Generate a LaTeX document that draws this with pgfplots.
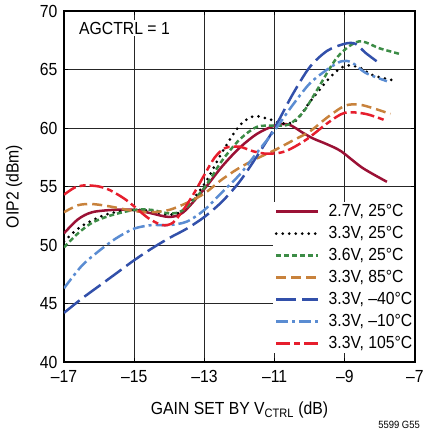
\documentclass[border=0pt]{standalone}
\usepackage{fontspec}
\setmainfont{Liberation Sans}[FakeStretch=0.9]
\usepackage{pgfplots}
\pgfplotsset{compat=1.18}
\definecolor{cdred}{RGB}{155,17,53}
\definecolor{cgreen}{RGB}{60,140,70}
\definecolor{corange}{RGB}{200,130,60}
\definecolor{cblue}{RGB}{50,80,170}
\definecolor{clblue}{RGB}{90,140,210}
\definecolor{cred}{RGB}{230,30,45}
\begin{document}
\begin{tikzpicture}
\useasboundingbox (0,0) rectangle (425pt,432pt);
\begin{axis}[
  at={(64pt,70pt)}, anchor=south west,
  width=351pt, height=351pt, scale only axis,
  font=\fontsize{17.5}{20}\selectfont,
  xmin=-17, xmax=-7, ymin=40, ymax=70,
  xtick={-17,-15,-13,-11,-9,-7},
  xticklabels={\textendash17,\textendash15,\textendash13,\textendash11,\textendash9,\textendash7},
  ytick={40,45,50,55,60,65,70},
  yticklabels={40,45,50,55,60,65,70},
  xticklabel style={yshift=-5pt},
  yticklabel style={xshift=-3pt},
  tick align=inside, major tick length=4pt,
  tick style={black, line width=0.8pt},
  grid=major,
  major grid style={black!85, line width=0.8pt},
  axis line style={black, line width=1.3pt},
  xlabel={GAIN SET BY V\textsubscript{CTRL} (dB)},
  ylabel={OIP2 (dBm)},
  xlabel style={at={(axis description cs:0.5,-0.137)}, anchor=center},
  ylabel style={at={(axis description cs:-0.142,0.5)}, anchor=center, rotate=0},
  legend image code/.code={\draw[#1] (0pt,0pt) -- (42pt,0pt);},
  legend style={at={(rel axis cs:0.594,0.456)}, anchor=north west,
    fill=white, draw=none, inner sep=2pt,
    nodes={inner sep=0pt, text height=12pt, text depth=3pt},
    row sep=7pt, font=\fontsize{17.5}{20}\selectfont,
    /tikz/every odd column/.append style={column sep=9pt}},
  legend cell align=left,
  every axis plot/.append style={smooth, line width=2.5pt},
]
\addplot[cdred] coordinates {(-17,51.0) (-16.6,52.2) (-16.2,52.8) (-15.6,53.0) (-15.0,53.0) (-14.5,52.7) (-14.0,52.4) (-13.6,52.8) (-13.0,54.8) (-12.5,56.7) (-12.0,58.3) (-11.5,59.5) (-11.0,60.2) (-10.6,60.3) (-10.2,59.6) (-9.9,59.1) (-9.5,58.6) (-9.1,58.0) (-8.5,56.6) (-7.8,55.4)};
\addlegendentry{2.7V, 25°C}
\addplot[black, line width=3pt, line cap=round, dash pattern=on 0pt off 6.5pt] coordinates {(-17,50.3) (-16.6,51.4) (-16.2,52.1) (-15.7,52.7) (-15.0,53.0) (-14.5,52.9) (-14.0,52.6) (-13.6,53.0) (-13.0,55.2) (-12.5,57.9) (-12.0,60.2) (-11.6,61.0) (-11.2,60.8) (-10.8,60.4) (-10.4,60.6) (-10.0,62.2) (-9.4,64.4) (-9.0,65.3) (-8.6,65.2) (-8.2,64.5) (-7.5,64.0)};
\addlegendentry{3.3V, 25°C}
\addplot[cgreen, dash pattern=on 5pt off 3pt] coordinates {(-17,49.8) (-16.6,51.0) (-16.2,51.9) (-15.7,52.5) (-15.0,53.0) (-14.5,53.0) (-14.0,52.7) (-13.6,53.0) (-13.0,54.9) (-12.5,57.2) (-12.0,59.0) (-11.5,60.1) (-11.0,60.2) (-10.6,60.3) (-10.2,61.3) (-9.8,63.2) (-9.2,66.1) (-8.6,67.4) (-8.0,66.8) (-7.4,66.3)};
\addlegendentry{3.6V, 25°C}
\addplot[corange, dash pattern=on 10pt off 5pt] coordinates {(-17,52.8) (-16.6,53.4) (-16.2,53.5) (-15.7,53.3) (-15.0,52.9) (-14.5,52.8) (-14.0,53.0) (-13.5,53.6) (-13.0,54.4) (-12.5,55.6) (-12.0,56.6) (-11.5,57.4) (-11.0,58.1) (-10.5,58.9) (-10.0,59.7) (-9.5,60.9) (-9.0,61.9) (-8.6,62.0) (-8.2,61.7) (-7.7,61.2)};
\addlegendentry{3.3V, 85°C}
\addplot[cblue, dash pattern=on 20pt off 6pt] coordinates {(-17,44.2) (-16.5,45.4) (-16,46.5) (-15.5,47.6) (-15,48.7) (-14.5,49.7) (-14,50.6) (-13.5,51.4) (-13,52.4) (-12.5,53.7) (-12,55.4) (-11.5,57.6) (-11,60.0) (-10.5,62.8) (-10,65.2) (-9.5,66.6) (-9,67.2) (-8.7,67.2) (-8.4,66.4) (-8.0,65.5)};
\addlegendentry{3.3V, \textendash40°C}
\addplot[clblue, dash pattern=on 12pt off 4pt on 3pt off 4pt] coordinates {(-17,46.3) (-16.5,48.2) (-16,49.5) (-15.5,50.6) (-15,51.4) (-14.5,51.7) (-14,51.7) (-13.5,52.0) (-13,53.0) (-12.5,54.5) (-12,56.0) (-11.5,57.9) (-11,59.8) (-10.5,61.9) (-10,63.8) (-9.5,65.0) (-9.1,65.7) (-8.8,65.6) (-8.4,64.7) (-7.8,64.0)};
\addlegendentry{3.3V, \textendash10°C}
\addplot[cred, dash pattern=on 14pt off 4pt on 6pt off 4pt] coordinates {(-17,54.3) (-16.7,54.9) (-16.4,55.1) (-16.0,55.0) (-15.7,54.7) (-15.3,54.0) (-15.0,53.3) (-14.6,52.3) (-14.2,51.7) (-13.9,51.9) (-13.6,53.0) (-13.3,54.4) (-13.0,56.0) (-12.7,57.5) (-12.4,58.3) (-12.0,58.4) (-11.6,58.0) (-11.2,57.8) (-10.7,58.0) (-10.1,59.0) (-9.5,60.4) (-9.0,61.3) (-8.4,61.2) (-7.8,60.6)};
\addlegendentry{3.3V, 105°C}
\node[fill=white, anchor=west, inner sep=2pt] at (rel axis cs:0.037,0.951) {AGCTRL = 1};
\end{axis}
\node[anchor=east, inner sep=0pt, font=\fontsize{10.5}{12}\selectfont] at (420pt,7pt) {5599 G55};
\end{tikzpicture}
\end{document}
